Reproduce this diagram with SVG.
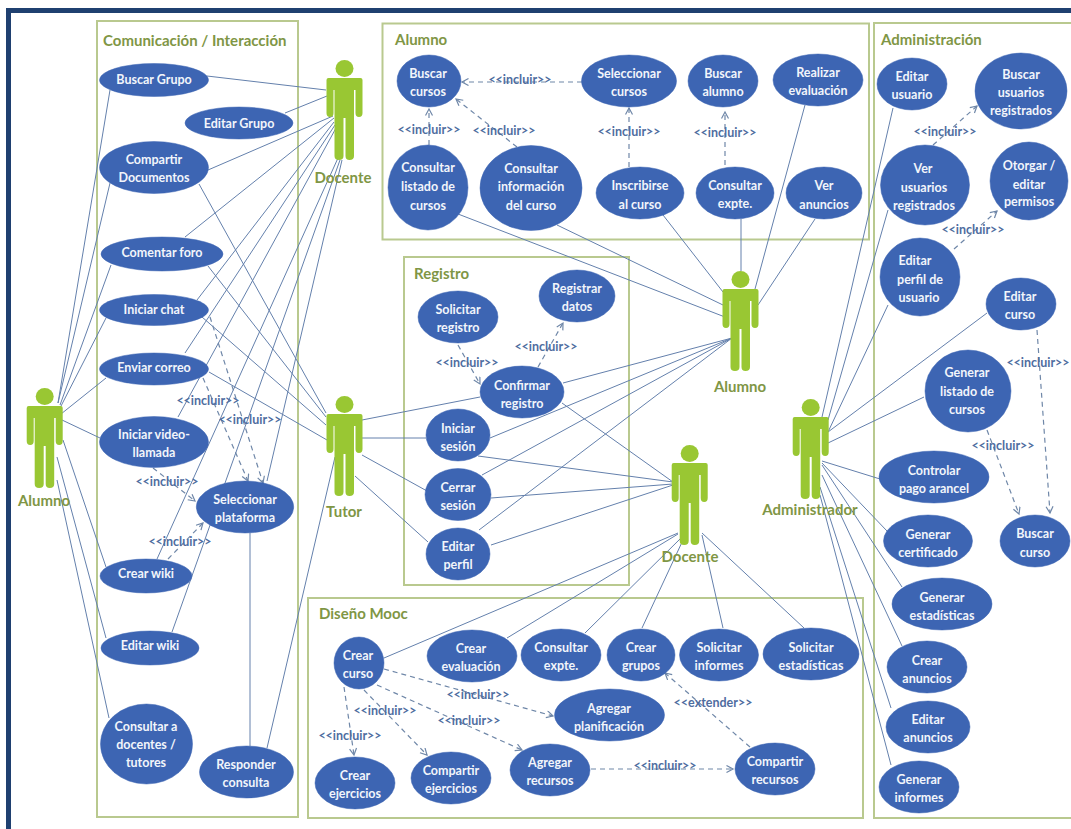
<svg xmlns="http://www.w3.org/2000/svg" width="1071" height="829" viewBox="0 0 1071 829">
<style>
text{font-family:"Lato","Liberation Sans",sans-serif;font-weight:700}
.box{fill:none;stroke:#b9c98f;stroke-width:2}
.title{fill:#7f9645;font-size:15px}
.uc{fill:#3d65b3;stroke:#3d65b3;stroke-width:.5}
.t{fill:#f2f5fb;font-size:12.5px;text-anchor:middle}
.actor{fill:#99c733}
.an{fill:#7f9645;font-size:15px;text-anchor:middle}
.s line{stroke:#6480ac;stroke-width:1;fill:none}
.d line{stroke:#6f87a8;stroke-width:1.2;stroke-dasharray:5 4;fill:none;marker-end:url(#open)}
.rel{fill:#4f6d9f;font-size:12.5px;text-anchor:middle}
</style>
<defs>
<marker id="open" markerUnits="userSpaceOnUse" markerWidth="10" markerHeight="10" refX="7.5" refY="4" orient="auto"><path d="M1,0.5 L7.5,4 L1,7.5" fill="none" stroke="#6f87a8" stroke-width="1.2"/></marker>
<g id="fig">
<ellipse cx="0" cy="8.5" rx="9" ry="8.5"/>
<path d="M-18,20 Q-18,18 -16,18 H16 Q18,18 18,20 V53 Q18,57 14.5,57 Q11,57 11,53 V30 H9.5 V96 Q9.5,100 5,100 Q1,100 1,96 V58 H-1 V96 Q-1,100 -5.5,100 Q-10,100 -10,96 V30 H-11 V53 Q-11,57 -14.5,57 Q-18,57 -18,53 Z"/>
</g>
</defs>
<rect width="1071" height="829" fill="#fff"/>
<path d="M8.500,829 V10.500 H1071" fill="none" stroke="#1f4070" stroke-width="5"/>

<g id="box-comunicacion"><rect class="box" x="97" y="21" width="201" height="796"/><text class="title" x="103" y="46">Comunicación / Interacción</text></g>
<g id="box-alumno"><rect class="box" x="382.500" y="23.500" width="486.500" height="216"/><text class="title" x="395" y="45">Alumno</text></g>
<g id="box-administracion"><rect class="box" x="874" y="23" width="199" height="795"/><text class="title" x="881" y="45">Administración</text></g>
<g id="box-registro"><rect class="box" x="404" y="257" width="225" height="328"/><text class="title" x="414" y="279">Registro</text></g>
<g id="box-diseno"><rect class="box" x="308" y="598" width="555" height="220"/><text class="title" x="319" y="619">Diseño Mooc</text></g>

<g id="connectors">
<g class="s">
<line x1="58" y1="403" x2="110" y2="90"/><line x1="58" y1="403" x2="110" y2="183"/><line x1="60" y1="405" x2="111" y2="265"/><line x1="60" y1="408" x2="106" y2="318"/><line x1="61" y1="414" x2="106" y2="378"/><line x1="62" y1="420" x2="100" y2="438"/><line x1="63" y1="440" x2="106" y2="567"/><line x1="57" y1="457" x2="106" y2="638"/><line x1="57" y1="480" x2="109" y2="718"/>
<line x1="207" y1="76" x2="326" y2="90"/><line x1="285" y1="113" x2="327" y2="96"/><line x1="208" y1="170" x2="333" y2="116"/><line x1="185" y1="237" x2="334" y2="118"/><line x1="197" y1="300" x2="334" y2="122"/><line x1="185" y1="353" x2="335" y2="125"/><line x1="178" y1="417" x2="336" y2="128"/><line x1="157" y1="559" x2="338" y2="158"/><line x1="172" y1="632" x2="340" y2="160"/><line x1="267" y1="481" x2="342" y2="160"/>
<line x1="199" y1="184" x2="326" y2="413"/><line x1="208" y1="266" x2="326" y2="417"/><line x1="202" y1="317" x2="326" y2="425"/><line x1="209" y1="372" x2="327" y2="440"/><line x1="267" y1="748" x2="335" y2="457"/><line x1="250" y1="533" x2="250" y2="746"/>
<line x1="362" y1="420" x2="480" y2="397"/><line x1="362" y1="438" x2="426" y2="438"/><line x1="362" y1="455" x2="427" y2="491"/><line x1="355" y1="476" x2="428" y2="542"/>
<line x1="458" y1="214" x2="725" y2="317"/><line x1="557" y1="225" x2="723" y2="305"/><line x1="663" y1="215" x2="723" y2="292"/><line x1="741" y1="219" x2="741" y2="271"/><line x1="805" y1="105" x2="755" y2="289"/><line x1="815" y1="219" x2="758" y2="305"/>
<line x1="563" y1="383" x2="732" y2="338"/><line x1="490" y1="438" x2="732" y2="338"/><line x1="482" y1="475" x2="732" y2="338"/><line x1="479" y1="530" x2="732" y2="338"/>
<line x1="562" y1="403" x2="673" y2="482"/><line x1="478" y1="456" x2="673" y2="482"/><line x1="491" y1="498" x2="673" y2="484"/><line x1="491" y1="545" x2="673" y2="485"/>
<line x1="384" y1="658" x2="678" y2="533"/><line x1="507" y1="638" x2="678" y2="534"/><line x1="585" y1="633" x2="682" y2="537"/><line x1="642" y1="628" x2="683" y2="540"/><line x1="723" y1="628" x2="702" y2="535"/><line x1="804" y1="628" x2="702" y2="533"/>
<line x1="893" y1="108" x2="822" y2="417"/><line x1="888" y1="210" x2="828" y2="420"/><line x1="888" y1="305" x2="828" y2="432"/><line x1="987" y1="313" x2="828" y2="432"/><line x1="924" y1="397" x2="828" y2="443"/><line x1="880" y1="479" x2="822" y2="461"/><line x1="887" y1="531" x2="822" y2="463"/><line x1="902" y1="587" x2="822" y2="465"/><line x1="902" y1="646" x2="822" y2="475"/><line x1="891" y1="708" x2="820" y2="487"/><line x1="891" y1="765" x2="820" y2="495"/>
</g>
<g class="d">
<line x1="203" y1="378" x2="248" y2="481"/><line x1="210" y1="317" x2="263" y2="483"/><line x1="153" y1="468" x2="195" y2="501"/><line x1="168" y1="559" x2="203" y2="523"/>
<line x1="582" y1="82" x2="462" y2="82"/><line x1="429" y1="145" x2="429" y2="109"/><line x1="517" y1="147" x2="456" y2="99"/><line x1="629" y1="167" x2="629" y2="108"/><line x1="725" y1="165" x2="725" y2="112"/>
<line x1="933" y1="145" x2="977" y2="106"/><line x1="954" y1="249" x2="997" y2="211"/><line x1="1037" y1="330" x2="1050" y2="513"/><line x1="987" y1="430" x2="1019" y2="514"/>
<line x1="458" y1="345" x2="480" y2="384"/><line x1="538" y1="367" x2="563" y2="323"/>
<line x1="344" y1="687" x2="354" y2="755"/><line x1="364" y1="690" x2="427" y2="755"/><line x1="377" y1="685" x2="522" y2="750"/><line x1="384" y1="669" x2="553" y2="716"/><line x1="591" y1="769" x2="733" y2="769"/><line x1="750" y1="747" x2="665" y2="673"/>
</g>
<g id="connector-labels">
<text class="rel" x="208" y="405">&lt;&lt;incluir&gt;&gt;</text><text class="rel" x="250" y="424">&lt;&lt;incluir&gt;&gt;</text><text class="rel" x="167" y="486">&lt;&lt;incluir&gt;&gt;</text><text class="rel" x="180" y="546">&lt;&lt;incluir&gt;&gt;</text>
<text class="rel" x="520" y="84">&lt;&lt;incluir&gt;&gt;</text><text class="rel" x="429" y="134">&lt;&lt;incluir&gt;&gt;</text><text class="rel" x="504" y="135">&lt;&lt;incluir&gt;&gt;</text><text class="rel" x="629" y="136">&lt;&lt;incluir&gt;&gt;</text><text class="rel" x="725" y="137">&lt;&lt;incluir&gt;&gt;</text>
<text class="rel" x="945" y="136">&lt;&lt;incluir&gt;&gt;</text><text class="rel" x="973" y="234">&lt;&lt;incluir&gt;&gt;</text><text class="rel" x="1038" y="367">&lt;&lt;incluir&gt;&gt;</text><text class="rel" x="1003" y="450">&lt;&lt;incluir&gt;&gt;</text>
<text class="rel" x="467" y="367">&lt;&lt;incluir&gt;&gt;</text><text class="rel" x="546" y="351">&lt;&lt;incluir&gt;&gt;</text>
<text class="rel" x="478" y="699">&lt;&lt;incluir&gt;&gt;</text><text class="rel" x="385" y="715">&lt;&lt;incluir&gt;&gt;</text><text class="rel" x="469" y="725">&lt;&lt;incluir&gt;&gt;</text><text class="rel" x="350" y="740">&lt;&lt;incluir&gt;&gt;</text><text class="rel" x="665" y="770">&lt;&lt;incluir&gt;&gt;</text><text class="rel" x="713" y="707">&lt;&lt;extender&gt;&gt;</text>
</g>
</g>

<g id="actor-alumno-1"><use href="#fig" class="actor" x="44.700" y="388"/><text class="an" x="44" y="506">Alumno</text></g>
<g id="actor-docente-1"><use href="#fig" class="actor" x="344.500" y="60"/><text class="an" x="343" y="183">Docente</text></g>
<g id="actor-tutor"><use href="#fig" class="actor" x="344.500" y="396"/><text class="an" x="344" y="517">Tutor</text></g>
<g id="actor-alumno-2"><use href="#fig" class="actor" x="740.500" y="271"/><text class="an" x="740" y="392">Alumno</text></g>
<g id="actor-docente-2"><use href="#fig" class="actor" x="689.700" y="445"/><text class="an" x="690" y="562">Docente</text></g>
<g id="actor-administrador"><use href="#fig" class="actor" x="810.700" y="399"/><text class="an" x="810" y="515">Administrador</text></g>

<g id="uc-buscar-grupo"><ellipse class="uc" cx="154" cy="80" rx="54.500" ry="16.500"/><text class="t" x="154" y="84">Buscar Grupo</text></g>
<g id="uc-editar-grupo"><ellipse class="uc" cx="239" cy="123" rx="54" ry="16"/><text class="t" x="239" y="127.500">Editar Grupo</text></g>
<g id="uc-compartir-documentos"><ellipse class="uc" cx="154" cy="167.500" rx="54.500" ry="26"/><text class="t" x="154" y="164">Compartir</text><text class="t" x="154" y="182">Documentos</text></g>
<g id="uc-comentar-foro"><ellipse class="uc" cx="162" cy="254" rx="61" ry="17"/><text class="t" x="162" y="257">Comentar foro</text></g>
<g id="uc-iniciar-chat"><ellipse class="uc" cx="154" cy="310" rx="54.500" ry="15.500"/><text class="t" x="154" y="314">Iniciar chat</text></g>
<g id="uc-enviar-correo"><ellipse class="uc" cx="154" cy="369" rx="54.500" ry="16"/><text class="t" x="154" y="372">Enviar correo</text></g>
<g id="uc-iniciar-video"><ellipse class="uc" cx="154" cy="442" rx="54.500" ry="25.500"/><text class="t" x="154" y="439">Iniciar video-</text><text class="t" x="154" y="457">llamada</text></g>
<g id="uc-seleccionar-plataforma"><ellipse class="uc" cx="245" cy="507" rx="48.700" ry="26"/><text class="t" x="245" y="504">Seleccionar</text><text class="t" x="245" y="522">plataforma</text></g>
<g id="uc-crear-wiki"><ellipse class="uc" cx="146" cy="576" rx="46" ry="17"/><text class="t" x="146" y="578">Crear wiki</text></g>
<g id="uc-editar-wiki"><ellipse class="uc" cx="150" cy="648" rx="49" ry="17"/><text class="t" x="150" y="650">Editar wiki</text></g>
<g id="uc-consultar-docentes"><ellipse class="uc" cx="146.500" cy="744" rx="46" ry="40"/><text class="t" x="146" y="731">Consultar a</text><text class="t" x="146" y="749">docentes /</text><text class="t" x="146" y="767">tutores</text></g>
<g id="uc-responder-consulta"><ellipse class="uc" cx="246.500" cy="772" rx="47" ry="26"/><text class="t" x="246" y="769">Responder</text><text class="t" x="246" y="787">consulta</text></g>

<g id="uc-buscar-cursos"><ellipse class="uc" cx="429" cy="81" rx="32" ry="26"/><text class="t" x="428" y="78">Buscar</text><text class="t" x="428" y="96">cursos</text></g>
<g id="uc-seleccionar-cursos"><ellipse class="uc" cx="629" cy="81" rx="47.500" ry="26"/><text class="t" x="629" y="78">Seleccionar</text><text class="t" x="629" y="96">cursos</text></g>
<g id="uc-buscar-alumno"><ellipse class="uc" cx="723" cy="81" rx="35" ry="26"/><text class="t" x="723" y="78">Buscar</text><text class="t" x="723" y="96">alumno</text></g>
<g id="uc-realizar-evaluacion"><ellipse class="uc" cx="818" cy="80" rx="45" ry="26"/><text class="t" x="818" y="77">Realizar</text><text class="t" x="818" y="95">evaluación</text></g>
<g id="uc-consultar-listado"><ellipse class="uc" cx="428" cy="187.500" rx="40" ry="42.500"/><text class="t" x="428" y="172">Consultar</text><text class="t" x="428" y="191">listado de</text><text class="t" x="428" y="210">cursos</text></g>
<g id="uc-consultar-informacion"><ellipse class="uc" cx="531" cy="188" rx="51" ry="42.500"/><text class="t" x="531" y="173">Consultar</text><text class="t" x="531" y="191">información</text><text class="t" x="531" y="210">del curso</text></g>
<g id="uc-inscribirse"><ellipse class="uc" cx="640" cy="193" rx="44" ry="26"/><text class="t" x="640" y="190">Inscribirse</text><text class="t" x="640" y="209">al curso</text></g>
<g id="uc-consultar-expte-1"><ellipse class="uc" cx="735" cy="193" rx="39" ry="26"/><text class="t" x="735" y="190">Consultar</text><text class="t" x="735" y="208">expte.</text></g>
<g id="uc-ver-anuncios"><ellipse class="uc" cx="824" cy="193" rx="38" ry="26"/><text class="t" x="824" y="190">Ver</text><text class="t" x="824" y="209">anuncios</text></g>

<g id="uc-editar-usuario"><ellipse class="uc" cx="912" cy="84" rx="35" ry="26"/><text class="t" x="912" y="81">Editar</text><text class="t" x="912" y="99">usuario</text></g>
<g id="uc-buscar-usuarios"><ellipse class="uc" cx="1021" cy="91" rx="46" ry="38"/><text class="t" x="1021" y="79">Buscar</text><text class="t" x="1021" y="97">usuarios</text><text class="t" x="1021" y="115">registrados</text></g>
<g id="uc-ver-usuarios"><ellipse class="uc" cx="925" cy="185" rx="44.500" ry="40"/><text class="t" x="923" y="173">Ver</text><text class="t" x="924" y="192">usuarios</text><text class="t" x="924" y="210">registrados</text></g>
<g id="uc-otorgar"><ellipse class="uc" cx="1029" cy="181" rx="39" ry="39"/><text class="t" x="1029" y="170">Otorgar /</text><text class="t" x="1029" y="189">editar</text><text class="t" x="1029" y="206">permisos</text></g>
<g id="uc-editar-perfil-usuario"><ellipse class="uc" cx="920" cy="277" rx="40" ry="39"/><text class="t" x="915" y="265">Editar</text><text class="t" x="920" y="284">perfil de</text><text class="t" x="919" y="302">usuario</text></g>
<g id="uc-editar-curso"><ellipse class="uc" cx="1021" cy="304" rx="35" ry="26"/><text class="t" x="1020" y="301">Editar</text><text class="t" x="1020" y="319">curso</text></g>
<g id="uc-generar-listado"><ellipse class="uc" cx="968" cy="391" rx="43" ry="41"/><text class="t" x="967" y="377">Generar</text><text class="t" x="967" y="396">listado de</text><text class="t" x="967" y="414">cursos</text></g>
<g id="uc-controlar-pago"><ellipse class="uc" cx="934" cy="477" rx="55" ry="26"/><text class="t" x="934" y="475">Controlar</text><text class="t" x="934" y="493">pago arancel</text></g>
<g id="uc-generar-certificado"><ellipse class="uc" cx="928" cy="541" rx="44.500" ry="26"/><text class="t" x="928" y="539">Generar</text><text class="t" x="928" y="557">certificado</text></g>
<g id="uc-buscar-curso"><ellipse class="uc" cx="1035" cy="541" rx="35" ry="26"/><text class="t" x="1035" y="538">Buscar</text><text class="t" x="1035" y="557">curso</text></g>
<g id="uc-generar-estadisticas"><ellipse class="uc" cx="942" cy="604" rx="50" ry="26"/><text class="t" x="942" y="602">Generar</text><text class="t" x="942" y="620">estadísticas</text></g>
<g id="uc-crear-anuncios"><ellipse class="uc" cx="927" cy="667" rx="40" ry="26"/><text class="t" x="927" y="665">Crear</text><text class="t" x="927" y="683">anuncios</text></g>
<g id="uc-editar-anuncios"><ellipse class="uc" cx="928" cy="727" rx="42" ry="26"/><text class="t" x="928" y="724">Editar</text><text class="t" x="928" y="742">anuncios</text></g>
<g id="uc-generar-informes"><ellipse class="uc" cx="919" cy="787" rx="40" ry="26"/><text class="t" x="919" y="784">Generar</text><text class="t" x="919" y="802">informes</text></g>

<g id="uc-solicitar-registro"><ellipse class="uc" cx="458" cy="317" rx="40" ry="26"/><text class="t" x="458" y="314">Solicitar</text><text class="t" x="458" y="332">registro</text></g>
<g id="uc-registrar-datos"><ellipse class="uc" cx="577" cy="296" rx="38" ry="26"/><text class="t" x="577" y="293">Registrar</text><text class="t" x="577" y="311">datos</text></g>
<g id="uc-confirmar-registro"><ellipse class="uc" cx="522" cy="392" rx="42" ry="26"/><text class="t" x="522" y="390">Confirmar</text><text class="t" x="522" y="408">registro</text></g>
<g id="uc-iniciar-sesion"><ellipse class="uc" cx="458" cy="435" rx="32" ry="26"/><text class="t" x="458" y="433">Iniciar</text><text class="t" x="458" y="451">sesión</text></g>
<g id="uc-cerrar-sesion"><ellipse class="uc" cx="458" cy="494.500" rx="33" ry="26"/><text class="t" x="458" y="492">Cerrar</text><text class="t" x="458" y="510">sesión</text></g>
<g id="uc-editar-perfil"><ellipse class="uc" cx="458" cy="554" rx="32" ry="26"/><text class="t" x="458" y="551">Editar</text><text class="t" x="458" y="569">perfil</text></g>

<g id="uc-crear-curso"><ellipse class="uc" cx="359" cy="663" rx="25" ry="26"/><text class="t" x="358" y="660">Crear</text><text class="t" x="358" y="678">curso</text></g>
<g id="uc-crear-evaluacion"><ellipse class="uc" cx="472" cy="656" rx="45" ry="26"/><text class="t" x="471" y="653">Crear</text><text class="t" x="471" y="671">evaluación</text></g>
<g id="uc-consultar-expte-2"><ellipse class="uc" cx="561" cy="655" rx="40" ry="26"/><text class="t" x="561" y="652">Consultar</text><text class="t" x="561" y="670">expte.</text></g>
<g id="uc-crear-grupos"><ellipse class="uc" cx="641" cy="655" rx="34" ry="26"/><text class="t" x="641" y="652">Crear</text><text class="t" x="641" y="670">grupos</text></g>
<g id="uc-solicitar-informes"><ellipse class="uc" cx="719" cy="655" rx="39.500" ry="26"/><text class="t" x="719" y="652">Solicitar</text><text class="t" x="719" y="670">informes</text></g>
<g id="uc-solicitar-estadisticas"><ellipse class="uc" cx="811" cy="654" rx="48" ry="26"/><text class="t" x="811" y="652">Solicitar</text><text class="t" x="811" y="670">estadísticas</text></g>
<g id="uc-agregar-planificacion"><ellipse class="uc" cx="609.500" cy="715" rx="55" ry="26"/><text class="t" x="609" y="713">Agregar</text><text class="t" x="609" y="731">planificación</text></g>
<g id="uc-crear-ejercicios"><ellipse class="uc" cx="355" cy="783" rx="40" ry="26"/><text class="t" x="355" y="780">Crear</text><text class="t" x="355" y="798">ejercicios</text></g>
<g id="uc-compartir-ejercicios"><ellipse class="uc" cx="451" cy="778" rx="40" ry="26"/><text class="t" x="451" y="775">Compartir</text><text class="t" x="451" y="793">ejercicios</text></g>
<g id="uc-agregar-recursos"><ellipse class="uc" cx="550" cy="770" rx="40" ry="26"/><text class="t" x="550" y="767">Agregar</text><text class="t" x="550" y="785">recursos</text></g>
<g id="uc-compartir-recursos"><ellipse class="uc" cx="775" cy="769" rx="40" ry="26"/><text class="t" x="775" y="766">Compartir</text><text class="t" x="775" y="784">recursos</text></g>
</svg>
